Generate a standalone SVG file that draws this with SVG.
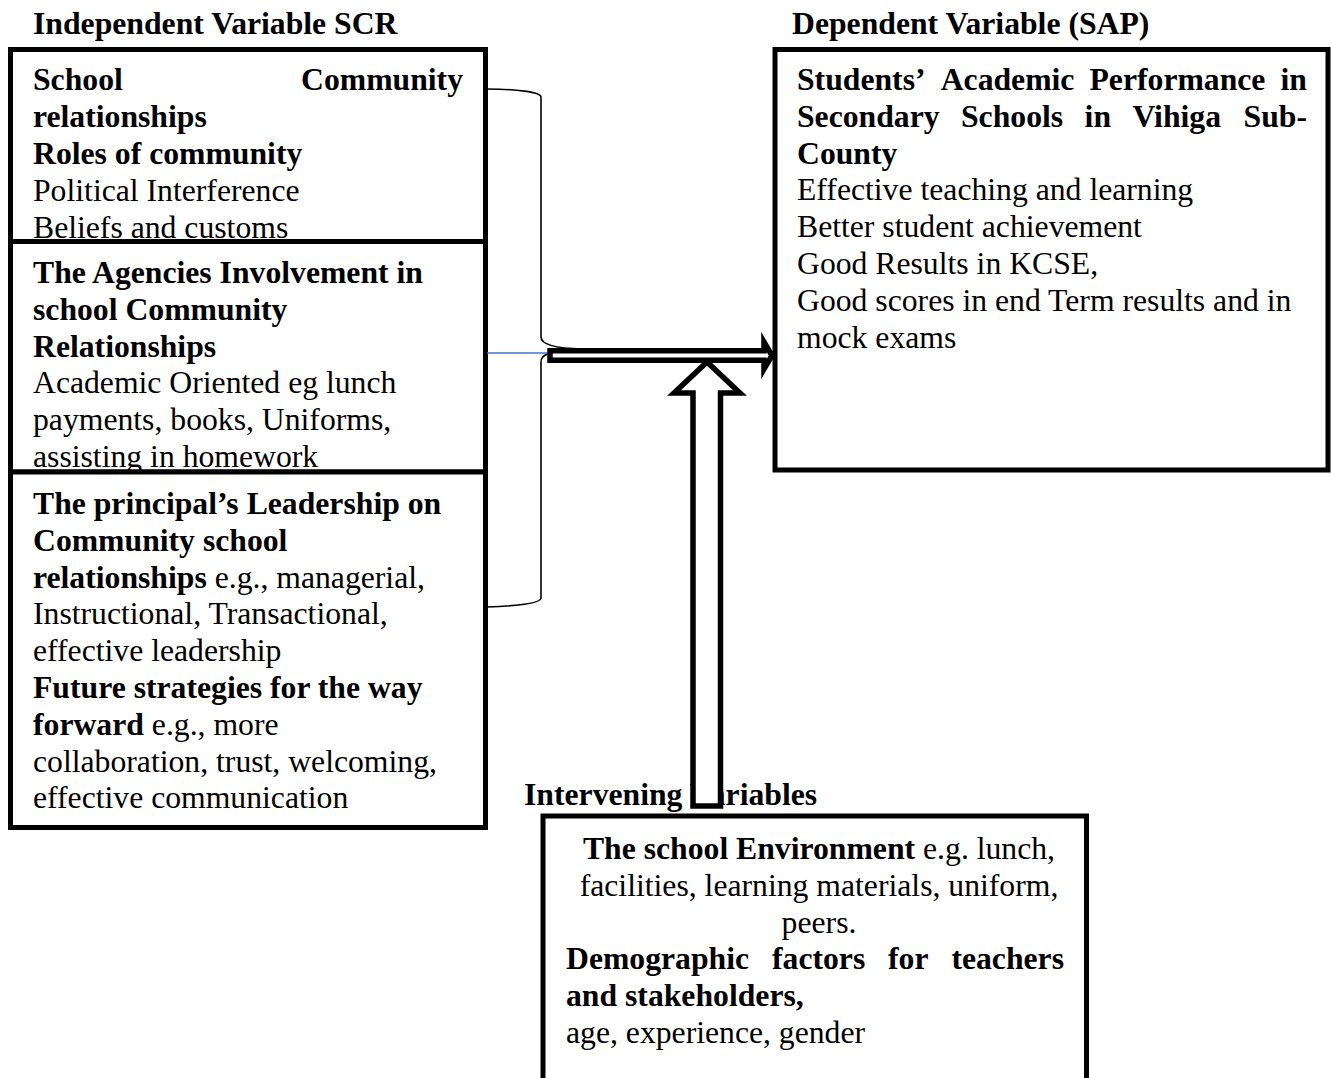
<svg xmlns="http://www.w3.org/2000/svg" width="1331" height="1078" viewBox="0 0 1331 1078">
<style>
text{font-family:"Liberation Serif","Times New Roman",serif;font-size:31.7px;fill:#000}
.b{font-weight:bold}
.box{fill:#fff;stroke:#000;stroke-width:5}
.arrow{fill:#fff;stroke:#000;stroke-width:5.5;stroke-linejoin:miter}
.brace{fill:none;stroke:#000;stroke-width:1.6}
</style>
<rect width="1331" height="1078" fill="#fff"/>
<g id="titles">
<text class="b" x="33" y="34">Independent Variable SCR</text>
<text class="b" x="792" y="34">Dependent Variable (SAP)</text>
</g>
<g id="scr-roles">
<rect class="box" x="10.5" y="49.5" width="475" height="192"/>
<text class="b" x="33" y="90">School</text>
<text class="b" x="463" y="90" text-anchor="end">Community</text>
<text class="b" x="33" y="127">relationships</text>
<text class="b" x="33" y="164">Roles of community</text>
<text x="33" y="201">Political Interference</text>
<text x="33" y="238">Beliefs and customs</text>
</g>
<g id="scr-agencies">
<rect class="box" x="10.5" y="241.5" width="475" height="230.5"/>
<text class="b" x="33" y="283">The Agencies Involvement in</text>
<text class="b" x="33" y="320">school Community</text>
<text class="b" x="33" y="357">Relationships</text>
<text x="33" y="393">Academic Oriented eg lunch</text>
<text x="33" y="430">payments, books, Uniforms,</text>
<text x="33" y="467">assisting in homework</text>
</g>
<g id="scr-leadership">
<rect class="box" x="10.5" y="472" width="475" height="355.5"/>
<text class="b" x="33" y="514">The principal’s Leadership on</text>
<text class="b" x="33" y="551">Community school</text>
<text x="33" y="588"><tspan class="b">relationships</tspan> e.g., managerial,</text>
<text x="33" y="624">Instructional, Transactional,</text>
<text x="33" y="661">effective leadership</text>
<text class="b" x="33" y="698">Future strategies for the way</text>
<text x="33" y="735"><tspan class="b">forward</tspan> e.g., more</text>
<text x="33" y="772">collaboration, trust, welcoming,</text>
<text x="33" y="808">effective communication</text>
</g>
<g id="sap">
<rect class="box" x="775" y="49.5" width="553" height="420.5"/>
<text class="b" y="90"><tspan x="797">Students’</tspan><tspan x="940.7">Academic</tspan><tspan x="1089.5">Performance</tspan><tspan x="1307" text-anchor="end">in</tspan></text>
<text class="b" y="127"><tspan x="797">Secondary</tspan><tspan x="961">Schools</tspan><tspan x="1084.6">in</tspan><tspan x="1132.4">Vihiga</tspan><tspan x="1307" text-anchor="end">Sub-</tspan></text>
<text class="b" x="797" y="164">County</text>
<text x="797" y="200">Effective teaching and learning</text>
<text x="797" y="237">Better student achievement</text>
<text x="797" y="274">Good Results in KCSE,</text>
<text x="797" y="311">Good scores in end Term results and in</text>
<text x="797" y="348">mock exams</text>
</g>
<g id="intervening">
<text class="b" x="524" y="805">Intervening Variables</text>
<rect class="box" x="543" y="816" width="543.5" height="290"/>
<text x="819" y="859" text-anchor="middle"><tspan class="b">The school Environment</tspan> e.g. lunch,</text>
<text x="819" y="896" text-anchor="middle">facilities, learning materials, uniform,</text>
<text x="819" y="933" text-anchor="middle">peers.</text>
<text class="b" y="969"><tspan x="566">Demographic</tspan><tspan x="772">factors</tspan><tspan x="888">for</tspan><tspan x="1064" text-anchor="end">teachers</tspan></text>
<text class="b" x="566" y="1006">and stakeholders,</text>
<text x="566" y="1043">age, experience, gender</text>
</g>
<g id="connectors">
<path class="brace" d="M487 89 C515 89 541 92 541 97 L541 337 Q541 348 582 349"/>
<path class="brace" d="M548 354 Q541 356 541 362 L541 598 Q541 605 487 607"/>
<line x1="487" y1="353" x2="548" y2="353" stroke="#4472C4" stroke-width="1.6"/>
<polygon class="arrow" points="707,362 740,393 720.5,393 720.5,806 693,806 693,393 674,393"/>
<polygon class="arrow" points="550,350.8 764,350.8 764,342 772,355.5 764,369 764,360.2 550,360.2"/>
</g>
</svg>
